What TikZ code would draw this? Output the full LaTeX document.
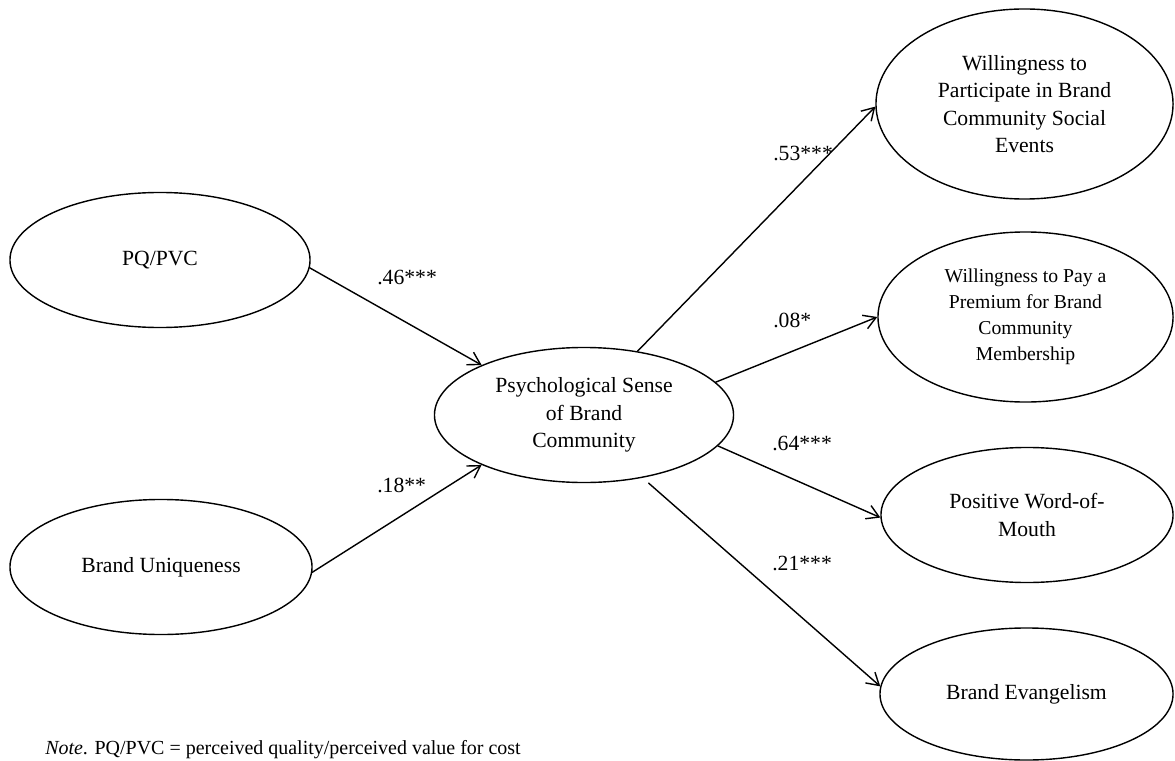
\documentclass[tikz,border=0pt]{standalone}
\usepackage{fontspec}
\setmainfont{Liberation Serif}
\usetikzlibrary{arrows.meta,shapes.geometric}
\tikzset{construct/.style={ellipse,draw,line width=1pt,inner sep=0pt,align=center,font=\fontsize{15.4}{19.5}\selectfont},
         coef/.style={anchor=west,inner sep=0pt,font=\fontsize{15.4}{19.5}\selectfont},
         effect/.style={->,line width=1pt}}
\begin{document}
\begin{tikzpicture}[line cap=round,line join=round,>={Straight Barb[length=3mm,width=3.6mm]},x=0.025cm,y=-0.025cm]
                \useasboundingbox (0,0) rectangle (1175,761);
                \node [construct,minimum width=7.5cm,minimum height=3.375cm] (pq) at (160,260) {PQ/PVC};
                \node [construct,minimum width=7.55cm,minimum height=3.375cm] (bu) at (161,567) {Brand Uniqueness};
                \node [construct,minimum width=7.475cm,minimum height=3.375cm] (psc) at (584,415) {Psychological Sense\\of Brand\\Community};
                \node [construct,minimum width=7.425cm,minimum height=4.75cm] (part) at (1024.5,104) {Willingness to\\Participate in Brand\\Community Social\\Events};
                \node [construct,minimum width=7.375cm,minimum height=4.25cm,font=\fontsize{14}{18.4}\selectfont] (pay) at (1025.5,317) {Willingness to Pay a\\Premium for Brand\\Community\\Membership};
                \node [construct,minimum width=7.3cm,minimum height=3.375cm] (wom) at (1027,515) {Positive Word-of-\\Mouth};
                \node [construct,minimum width=7.325cm,minimum height=3.3cm] (evan) at (1026.5,694) {Brand Evangelism};
                \draw [effect] (pq.-3) -- (psc.154.5);
                \draw [effect] (bu.-2.3) -- (psc.-154);
                \draw [effect] (psc.50.5) -- (part.181.5);
                \draw [effect] (psc.14.1) -- (pay.180);
                \draw [effect] (psc.-13.9) -- (wom.181.2);
                \draw [effect,shorten <=0.2cm] (psc.-47) -- (evan.177);
                \node [coef] (b46) at (377,277) {.46***};
                \node [coef] (b18) at (377,485) {.18**};
                \node [coef] (b53) at (773,153) {.53***};
                \node [coef] (b08) at (773,320) {.08*};
                \node [coef] (b64) at (772,443) {.64***};
                \node [coef] (b21) at (772,563) {.21***};
                \node [anchor=base west,inner sep=0pt,font=\fontsize{14.2}{17}\selectfont] (note) at (45,754) {\textit{Note}. PQ/PVC = perceived quality/perceived value for cost};
\end{tikzpicture}
\end{document}
